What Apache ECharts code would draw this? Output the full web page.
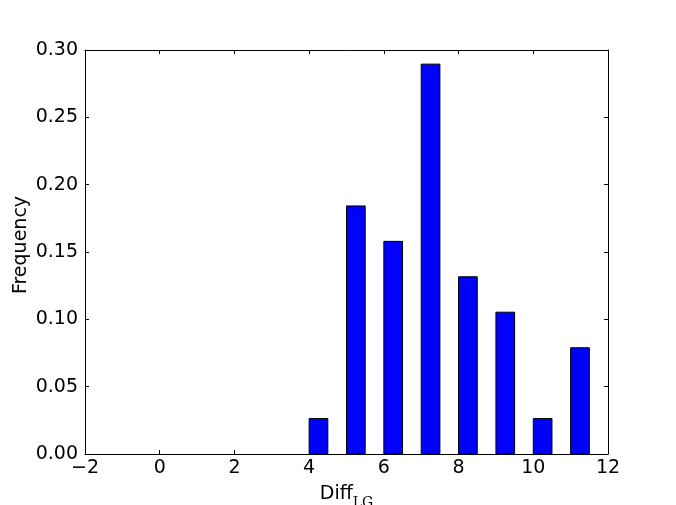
<!DOCTYPE html>
<html>
<head>
<meta charset="utf-8">
<script src="https://cdn.jsdelivr.net/npm/echarts@6/dist/echarts.min.js"></script>
<style>
html,body{margin:0;padding:0;background:#fff;}
#chart{width:676px;height:505px;}
</style>
</head>
<body>
<div id="chart"></div>
<script>
// Data
var binStarts = [4, 5, 6, 7, 8, 9, 10, 11];
var frequencies = [0.0263, 0.1842, 0.1579, 0.2895, 0.1316, 0.1053, 0.0263, 0.0789];
var xTicks = [-2, 0, 2, 4, 6, 8, 10, 12];
var yTicks = [0.00, 0.05, 0.10, 0.15, 0.20, 0.25, 0.30];

var BAR_W = 0.5;
var FONT = 'DejaVu Sans';
var FS = 19;

var chart = echarts.init(document.getElementById('chart'), null, {renderer: 'canvas'});

var seriesData = binStarts.map(function (s, i) { return [s, s + BAR_W, frequencies[i]]; });

function fmtX(v) { return v < 0 ? '\u2212' + Math.abs(v) : String(v); }

var baseX = {
  type: 'value', min: xTicks[0], max: xTicks[xTicks.length - 1], interval: 2,
  axisLine: {show: true, onZero: false, lineStyle: {color: '#000', width: 1}},
  axisTick: {show: true, inside: true, length: 4, lineStyle: {color: '#000', width: 1}},
  splitLine: {show: false}
};
var baseY = {
  type: 'value', min: yTicks[0], max: yTicks[yTicks.length - 1], interval: 0.05,
  axisLine: {show: true, onZero: false, lineStyle: {color: '#000', width: 1}},
  axisTick: {show: true, inside: true, length: 4, lineStyle: {color: '#000', width: 1}},
  splitLine: {show: false}
};

var option = {
  backgroundColor: '#fff',
  animation: false,
  grid: {left: 85, right: 68, top: 50, bottom: 51, containLabel: false, outerBoundsMode: 'none'},
  xAxis: [
    Object.assign({}, baseX, {
      position: 'bottom',
      axisLabel: {show: true, color: '#000', fontFamily: FONT, fontSize: FS, margin: 5, formatter: fmtX},
      name: '{m|Diff}{s|LG}',
      nameLocation: 'middle',
      nameGap: 31,
      nameMoveOverlap: false,
      nameTextStyle: {
        rich: {
          m: {fontFamily: FONT, fontSize: FS, color: '#000', verticalAlign: 'bottom'},
          s: {fontFamily: 'DejaVu Serif', fontSize: 14, color: '#000', padding: [0, 0, -6, 0], verticalAlign: 'bottom'}
        }
      }
    }),
    Object.assign({}, baseX, {position: 'top', axisLabel: {show: false}})
  ],
  yAxis: [
    Object.assign({}, baseY, {
      position: 'left',
      axisLabel: {show: true, color: '#000', fontFamily: FONT, fontSize: FS, margin: 7,
        formatter: function (v) { return v.toFixed(2); }},
      name: 'Frequency',
      nameLocation: 'middle',
      nameGap: 54,
      nameMoveOverlap: false,
      nameTextStyle: {fontFamily: FONT, fontSize: FS, color: '#000', padding: [0, 0, 0, 14]}
    }),
    Object.assign({}, baseY, {position: 'right', axisLabel: {show: false}})
  ],
  series: [{
    type: 'custom',
    xAxisIndex: 0,
    yAxisIndex: 0,
    data: seriesData,
    encode: {x: [0, 1], y: 2},
    renderItem: function (params, api) {
      var p0 = api.coord([api.value(0), api.value(2)]);
      var p1 = api.coord([api.value(1), 0]);
      return {
        type: 'rect',
        shape: {x: p0[0], y: p0[1], width: p1[0] - p0[0], height: p1[1] - p0[1]},
        style: {fill: '#0000ff', stroke: '#000', lineWidth: 1}
      };
    }
  }]
};
chart.setOption(option);
</script>
</body>
</html>
